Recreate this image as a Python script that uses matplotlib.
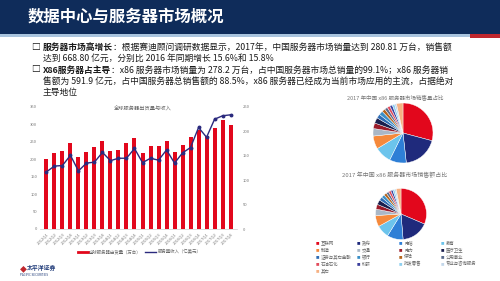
import matplotlib.pyplot as plt
from matplotlib.patches import Rectangle
from matplotlib.lines import Line2D
import numpy as np

plt.rcParams['font.family'] = ['Noto Sans CJK SC', 'DejaVu Sans']

# quarterly data, 2012Q1 - 2017Q4
quarters = [f"{y}Q{q}" for y in range(2012, 2018) for q in range(1, 5)]
shipments = [201, 217, 224, 246, 206, 220, 236, 253, 224, 227, 248, 262,
             217, 237, 237, 253, 221, 242, 264, 284, 268, 291, 313, 297]
revenue = [117, 129, 130, 151, 119, 135, 137, 157, 140, 145, 145, 165,
           136, 145, 141, 162, 135, 156, 167, 208, 188, 225, 232, 234]

industries = ["互联网", "政府", "电信", "教育", "制造", "交通", "电力", "医疗卫生",
              "证券与其它金融", "银行", "保险", "公用事业", "石油石化", "科研",
              "批发零售", "专业与咨询服务", "其它"]
ind_colors = ["#e2071c", "#1f2a7c", "#2e7fd6", "#6cc4ec", "#f5893b", "#a9b7c6",
              "#9b1b2a", "#1a1f4e", "#2f6db5", "#3a8fc7", "#b5651d", "#5a6b8c",
              "#e24b5b", "#3b3f9c", "#8fd0f0", "#c3d7ea", "#f6b183"]
volume_share = [29, 19, 9, 9, 7, 4, 3, 3, 2.2, 2.2, 1.8, 1.6, 1.5, 1.4, 1.3, 1.0, 3.5]
sales_share = [31, 17, 10, 8, 7, 4, 3, 3, 2.2, 2.0, 1.8, 1.6, 1.5, 1.3, 1.2, 1.0, 3.0]

W, H = 500, 281
fig = plt.figure(figsize=(5, 2.81), dpi=100)
fig.patch.set_facecolor("white")


def fx(px):
    return px / W


def fy(py):
    return 1 - py / H


# header band
fig.patches.append(Rectangle((0, fy(34)), 1, 34 / H, transform=fig.transFigure,
                             facecolor="#0f2c5a", edgecolor="none", zorder=0))
fig.patches.append(Rectangle((0, fy(37)), 1, 3 / H, transform=fig.transFigure,
                             facecolor="#a9c4de", edgecolor="none", zorder=0))
fig.patches.append(Rectangle((fx(470), fy(38)), 30 / W, 4 / H, transform=fig.transFigure,
                             facecolor="#c0272d", edgecolor="none", zorder=1))
fig.text(fx(28), fy(17), "数据中心与服务器市场概况", color="white", fontsize=11.8,
         fontweight="bold", va="center", ha="left")

# bullet text
txt_color = "#1a1a1a"
fs = 6.3


def bullet(y, head, body):
    fig.text(fx(31), fy(y), "□", fontsize=fs, fontweight="bold", va="center", color=txt_color)
    t = fig.text(fx(43), fy(y), head, fontsize=fs, fontweight="bold", va="center", color=txt_color)
    fig.canvas.draw()
    bb = t.get_window_extent()
    fig.text(bb.x1 / fig.bbox.width, fy(y), body, fontsize=fs, va="center", color=txt_color)


bullet(47, "服务器市场高增长", "：根据赛迪顾问调研数据显示，2017年，中国服务器市场销量达到 280.81 万台，销售额")
fig.text(fx(43), fy(58.5), "达到 668.80 亿元，分别比 2016 年同期增长 15.6%和 15.8%",
         fontsize=fs, va="center", color=txt_color)
bullet(70, "X86服务器占主导", "：x86 服务器市场销量为 278.2 万台，占中国服务器市场总销量的99.1%；x86 服务器销")
fig.text(fx(43), fy(81.5), "售额为 591.9 亿元，占中国服务器总销售额的 88.5%，x86 服务器已经成为当前市场应用的主流，占据绝对",
         fontsize=fs, va="center", color=txt_color)
fig.text(fx(43), fy(93), "主导地位", fontsize=fs, va="center", color=txt_color)

# left combo chart
ax = fig.add_axes([fx(40), fy(229), (237 - 40) / W, (229 - 107) / H])
x = np.arange(len(quarters))
ax.bar(x, shipments, width=0.5, color="#e2071c", zorder=2)
ax.set_ylim(0, 350)
ax.set_xlim(-0.8, len(quarters) - 0.2)
ax.set_yticks(range(0, 351, 50))
ax.set_xticks(x)
ax.set_xticklabels(quarters, rotation=45, ha="right", rotation_mode="anchor")
ax.tick_params(axis="both", labelsize=3.0, colors="#777777", length=0, pad=2)
for s in ["top", "left", "right"]:
    ax.spines[s].set_visible(False)
ax.spines["bottom"].set_color("#cccccc")
ax.spines["bottom"].set_linewidth(0.5)

ax2 = ax.twinx()
ax2.plot(x, revenue, color="#2b2a7e", lw=1.0, marker="o", ms=1.8, zorder=3)
ax2.set_ylim(0, 250)
ax2.set_yticks(range(0, 251, 50))
ax2.tick_params(axis="y", labelsize=3.0, colors="#777777", length=0, pad=4)
for s in ["top", "left", "right", "bottom"]:
    ax2.spines[s].set_visible(False)

fig.text(fx(143), fy(109), "全球服务器出货量与收入", fontsize=3.8, color="#666666",
         ha="center", va="center")

# legend for the combo chart
fig.lines.append(Line2D([fx(78), fx(88)], [fy(252), fy(252)], transform=fig.transFigure,
                        color="#e2071c", lw=2))
fig.text(fx(89), fy(252), "全球服务器出货量（万台）", fontsize=3.2, color="#666666", va="center")
fig.lines.append(Line2D([fx(145), fx(156)], [fy(252), fy(252)], transform=fig.transFigure,
                        color="#2b2a7e", lw=1))
fig.text(fx(158), fy(252), "服务器收入（亿美元）", fontsize=3.2, color="#666666", va="center")

# pies
def pie_at(cx, cy, r, values):
    pa = fig.add_axes([fx(cx - r), fy(cy + r), 2 * r / W, 2 * r / H])
    pa.pie(values, colors=ind_colors, startangle=90, counterclock=False,
           wedgeprops=dict(edgecolor="white", linewidth=0.3))
    pa.set_xlim(-1, 1)
    pa.set_ylim(-1, 1)
    pa.axis("off")


fig.text(fx(395), fy(97), "2017 年中国 x86 服务器市场销售量占比", fontsize=4, color="#777777",
         ha="center", va="center")
pie_at(403, 133, 30, volume_share)
fig.text(fx(395), fy(175), "2017 年中国 x86 服务器市场销售额占比", fontsize=4.3, color="#777777",
         ha="center", va="center")
pie_at(401, 214, 25.5, sales_share)

# industry legend
col_x = [317, 358, 400, 442]
row_y = [243, 250, 257, 264, 271]
for i, (name, c) in enumerate(zip(industries, ind_colors)):
    px = col_x[i % 4]
    py = row_y[i // 4]
    fig.text(fx(px), fy(py), "■", fontsize=2.5, color=c, va="center", ha="center")
    fig.text(fx(px + 4), fy(py), name, fontsize=3.2, color="#666666", va="center")

# logo
fig.text(fx(20), fy(269), "◆", fontsize=5, color="#c0272d", va="center")
fig.text(fx(27), fy(268), "太平洋证券", fontsize=4.2, fontweight="bold", color="#1f3a78", va="center")
fig.text(fx(20), fy(275), "PACIFIC SECURITIES", fontsize=2.2, color="#1f3a78", va="center")

fig.savefig("out.png", dpi=100)
